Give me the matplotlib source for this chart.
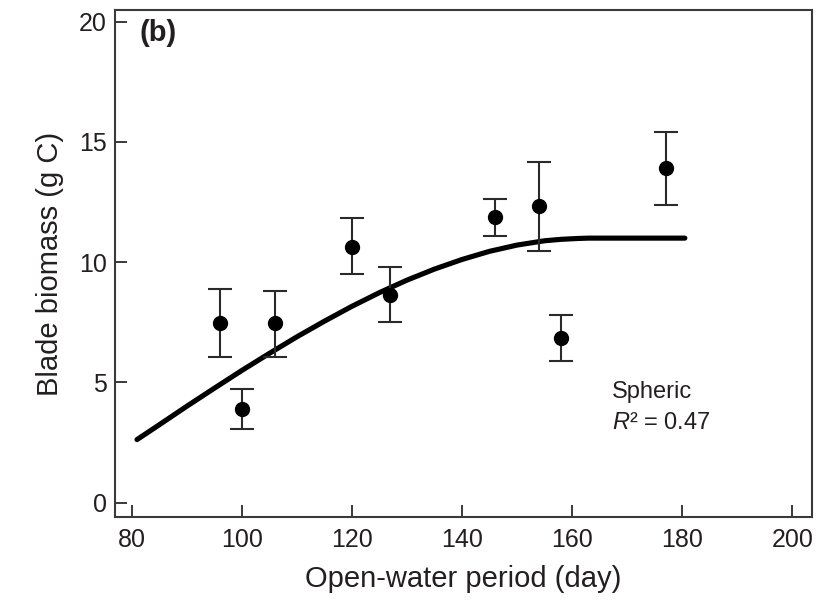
import numpy as np
import matplotlib
matplotlib.use("Agg")
import matplotlib.pyplot as plt

plt.rcParams["font.family"] = ["Liberation Sans", "DejaVu Sans"]
plt.rcParams["mathtext.fontset"] = "custom"
plt.rcParams["mathtext.it"] = "Liberation Sans:italic"
plt.rcParams["mathtext.rm"] = "Liberation Sans"

# observed blade biomass vs open-water period
days = [96, 100, 106, 120, 127, 146, 154, 158, 177]
biomass = [7.48, 3.90, 7.48, 10.65, 8.64, 11.86, 12.32, 6.83, 13.92]
err_upper = [8.89, 4.73, 8.80, 11.85, 9.82, 12.64, 14.15, 7.80, 15.40]
err_lower = [6.05, 3.05, 6.05, 9.50, 7.50, 11.07, 10.48, 5.90, 12.39]

# spherical model fit
fit_days = [81, 85, 90, 95, 100, 105, 110, 115, 120, 125, 130, 135,
            140, 145, 150, 155, 158, 161, 163, 165, 170, 175, 180.5]
fit_biomass = [2.62, 3.23, 4.00, 4.75, 5.49, 6.20, 6.89, 7.54, 8.16, 8.73,
               9.25, 9.71, 10.11, 10.45, 10.71, 10.89, 10.95, 10.985, 11.0,
               11.0, 11.0, 11.0, 11.0]

ink = "#231f20"
spine = "#3a3a3a"

fig = plt.figure(figsize=(8.19, 6.02), dpi=100)
ax = fig.add_axes([0.1404, 0.1412, 0.8511, 0.8422])

ax.plot(fit_days, fit_biomass, color="black", lw=3.7,
        solid_capstyle="round", solid_joinstyle="round", zorder=2)

yerr = [np.array(biomass) - np.array(err_lower),
        np.array(err_upper) - np.array(biomass)]
ax.errorbar(days, biomass, yerr=yerr, fmt="o", color="black",
            markersize=10, ecolor="#2a2a2a", elinewidth=1.5,
            capsize=8.5, capthick=1.5, zorder=3)

ax.set_xlim(77, 203.6)
ax.set_ylim(-0.6, 20.49)
ax.set_xticks([80, 100, 120, 140, 160, 180, 200])
ax.set_yticks([0, 5, 10, 15, 20])

for s in ax.spines.values():
    s.set_color(spine)
    s.set_linewidth(1.5)

ax.tick_params(direction="in", length=8.5, width=1.4, color=spine,
               labelsize=18, labelcolor=ink, pad=8)
ax.tick_params(axis="y", pad=6)

ax.set_xlabel("Open-water period (day)", fontsize=21, color=ink, labelpad=9)
ax.set_ylabel("Blade biomass (g C)", fontsize=21, color=ink, labelpad=11)

ax.text(0.035, 0.955, "(b)", transform=ax.transAxes, fontsize=21,
        fontweight="bold", color=ink, va="center", ha="left")
ax.text(167.3, 4.35, "Spheric", fontsize=17, color=ink, va="baseline")
ax.text(167.3, 3.04, "$R$\u00b2 = 0.47", fontsize=17, color=ink,
        va="baseline")

fig.savefig("out.png", dpi=100)
